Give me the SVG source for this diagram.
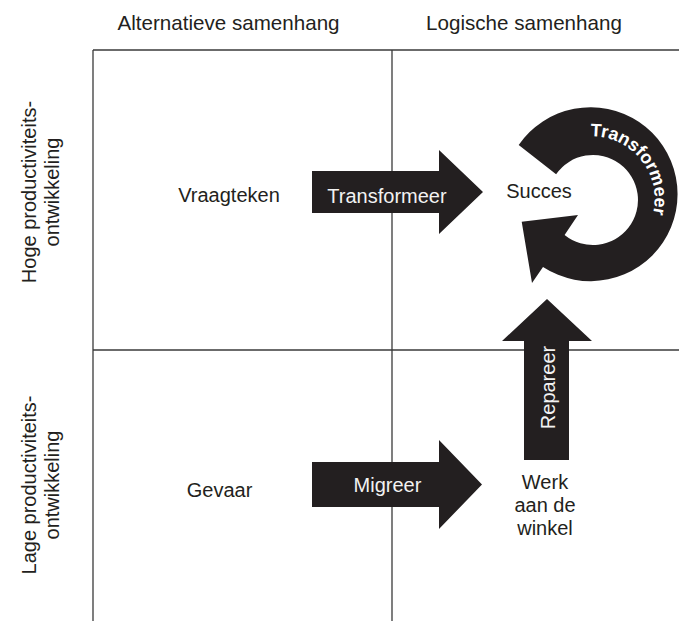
<svg xmlns="http://www.w3.org/2000/svg" width="679" height="621" viewBox="0 0 679 621">
  <style>
    .grid { stroke: #3a3a3a; stroke-width: 1.3; fill: none; }
    .lbl { font-family: "Liberation Sans", Arial, sans-serif; font-size: 20px; fill: #231f20; text-anchor: middle; }
    .hdr { font-size: 20.6px; }
    .arrow { fill: #231f20; }
    .wlbl { font-family: "Liberation Sans", Arial, sans-serif; font-size: 20px; fill: #f2f2f2; text-anchor: middle; }
    .ring { font-family: "Liberation Sans", Arial, sans-serif; font-size: 18px; font-weight: bold; fill: #ffffff; text-anchor: middle; }
  </style>
  <defs>
    <path id="ringText" d="M 551.5 150.7 A 63 63 0 1 1 623.5 253.6"/>
  </defs>
  <rect width="679" height="621" fill="#ffffff"/>

  <g id="grid">
    <line class="grid" x1="93" y1="50" x2="679" y2="50"/>
    <line class="grid" x1="93" y1="350" x2="679" y2="350"/>
    <line class="grid" x1="93" y1="50" x2="93" y2="621"/>
    <line class="grid" x1="392" y1="50" x2="392" y2="621"/>
  </g>

  <g id="header-alternatief">
    <text class="lbl hdr" x="228.5" y="29.5">Alternatieve samenhang</text>
  </g>
  <g id="header-logisch">
    <text class="lbl hdr" x="524" y="29.5">Logische samenhang</text>
  </g>
  <g id="row-hoog">
    <g transform="translate(35.5,192) rotate(-90)">
      <text class="lbl" x="0" y="0">Hoge productiviteits-</text>
      <text class="lbl" x="0" y="23">ontwikkeling</text>
    </g>
  </g>
  <g id="row-laag">
    <g transform="translate(35.5,485) rotate(-90)">
      <text class="lbl" x="0" y="0">Lage productiviteits-</text>
      <text class="lbl" x="0" y="23">ontwikkeling</text>
    </g>
  </g>

  <g id="vraagteken">
    <text class="lbl" x="229" y="201.5">Vraagteken</text>
  </g>
  <g id="gevaar">
    <text class="lbl" x="219.5" y="496.5">Gevaar</text>
  </g>
  <g id="succes">
    <text class="lbl" x="539" y="198">Succes</text>
  </g>
  <g id="werk-aan-de-winkel">
    <text class="lbl" x="545" y="489">Werk</text>
    <text class="lbl" x="545" y="512">aan de</text>
    <text class="lbl" x="545" y="535">winkel</text>
  </g>

  <g id="connectors">
    <g id="arrow-transformeer">
      <polygon class="arrow" points="312,171 439,171 439,150 483,192 439,234 439,213 312,213"/>
      <text class="wlbl" x="387" y="203">Transformeer</text>
    </g>
    <g id="arrow-migreer">
      <polygon class="arrow" points="312,462 439,462 439,440 482,484.5 439,529 439,507 312,507"/>
      <text class="wlbl" x="387.5" y="492">Migreer</text>
    </g>
    <g id="arrow-repareer">
      <polygon class="arrow" points="524,460 524,341 502,341 547,299 592,341 569,341 569,460"/>
      <text class="wlbl" transform="translate(555,387.5) rotate(-90)" x="0" y="0">Repareer</text>
    </g>
    <g id="arrow-cycle">
      <path class="arrow" d="M 518.7 145.1 A 87 87 0 1 1 543 267 L 532 283 L 521.7 221.7 L 578 215 L 564.6 234.9 A 45 45 0 1 0 556.1 174.2 Z"/>
      <text class="ring"><textPath href="#ringText" startOffset="48%">Transformeer</textPath></text>
    </g>
  </g>
</svg>
